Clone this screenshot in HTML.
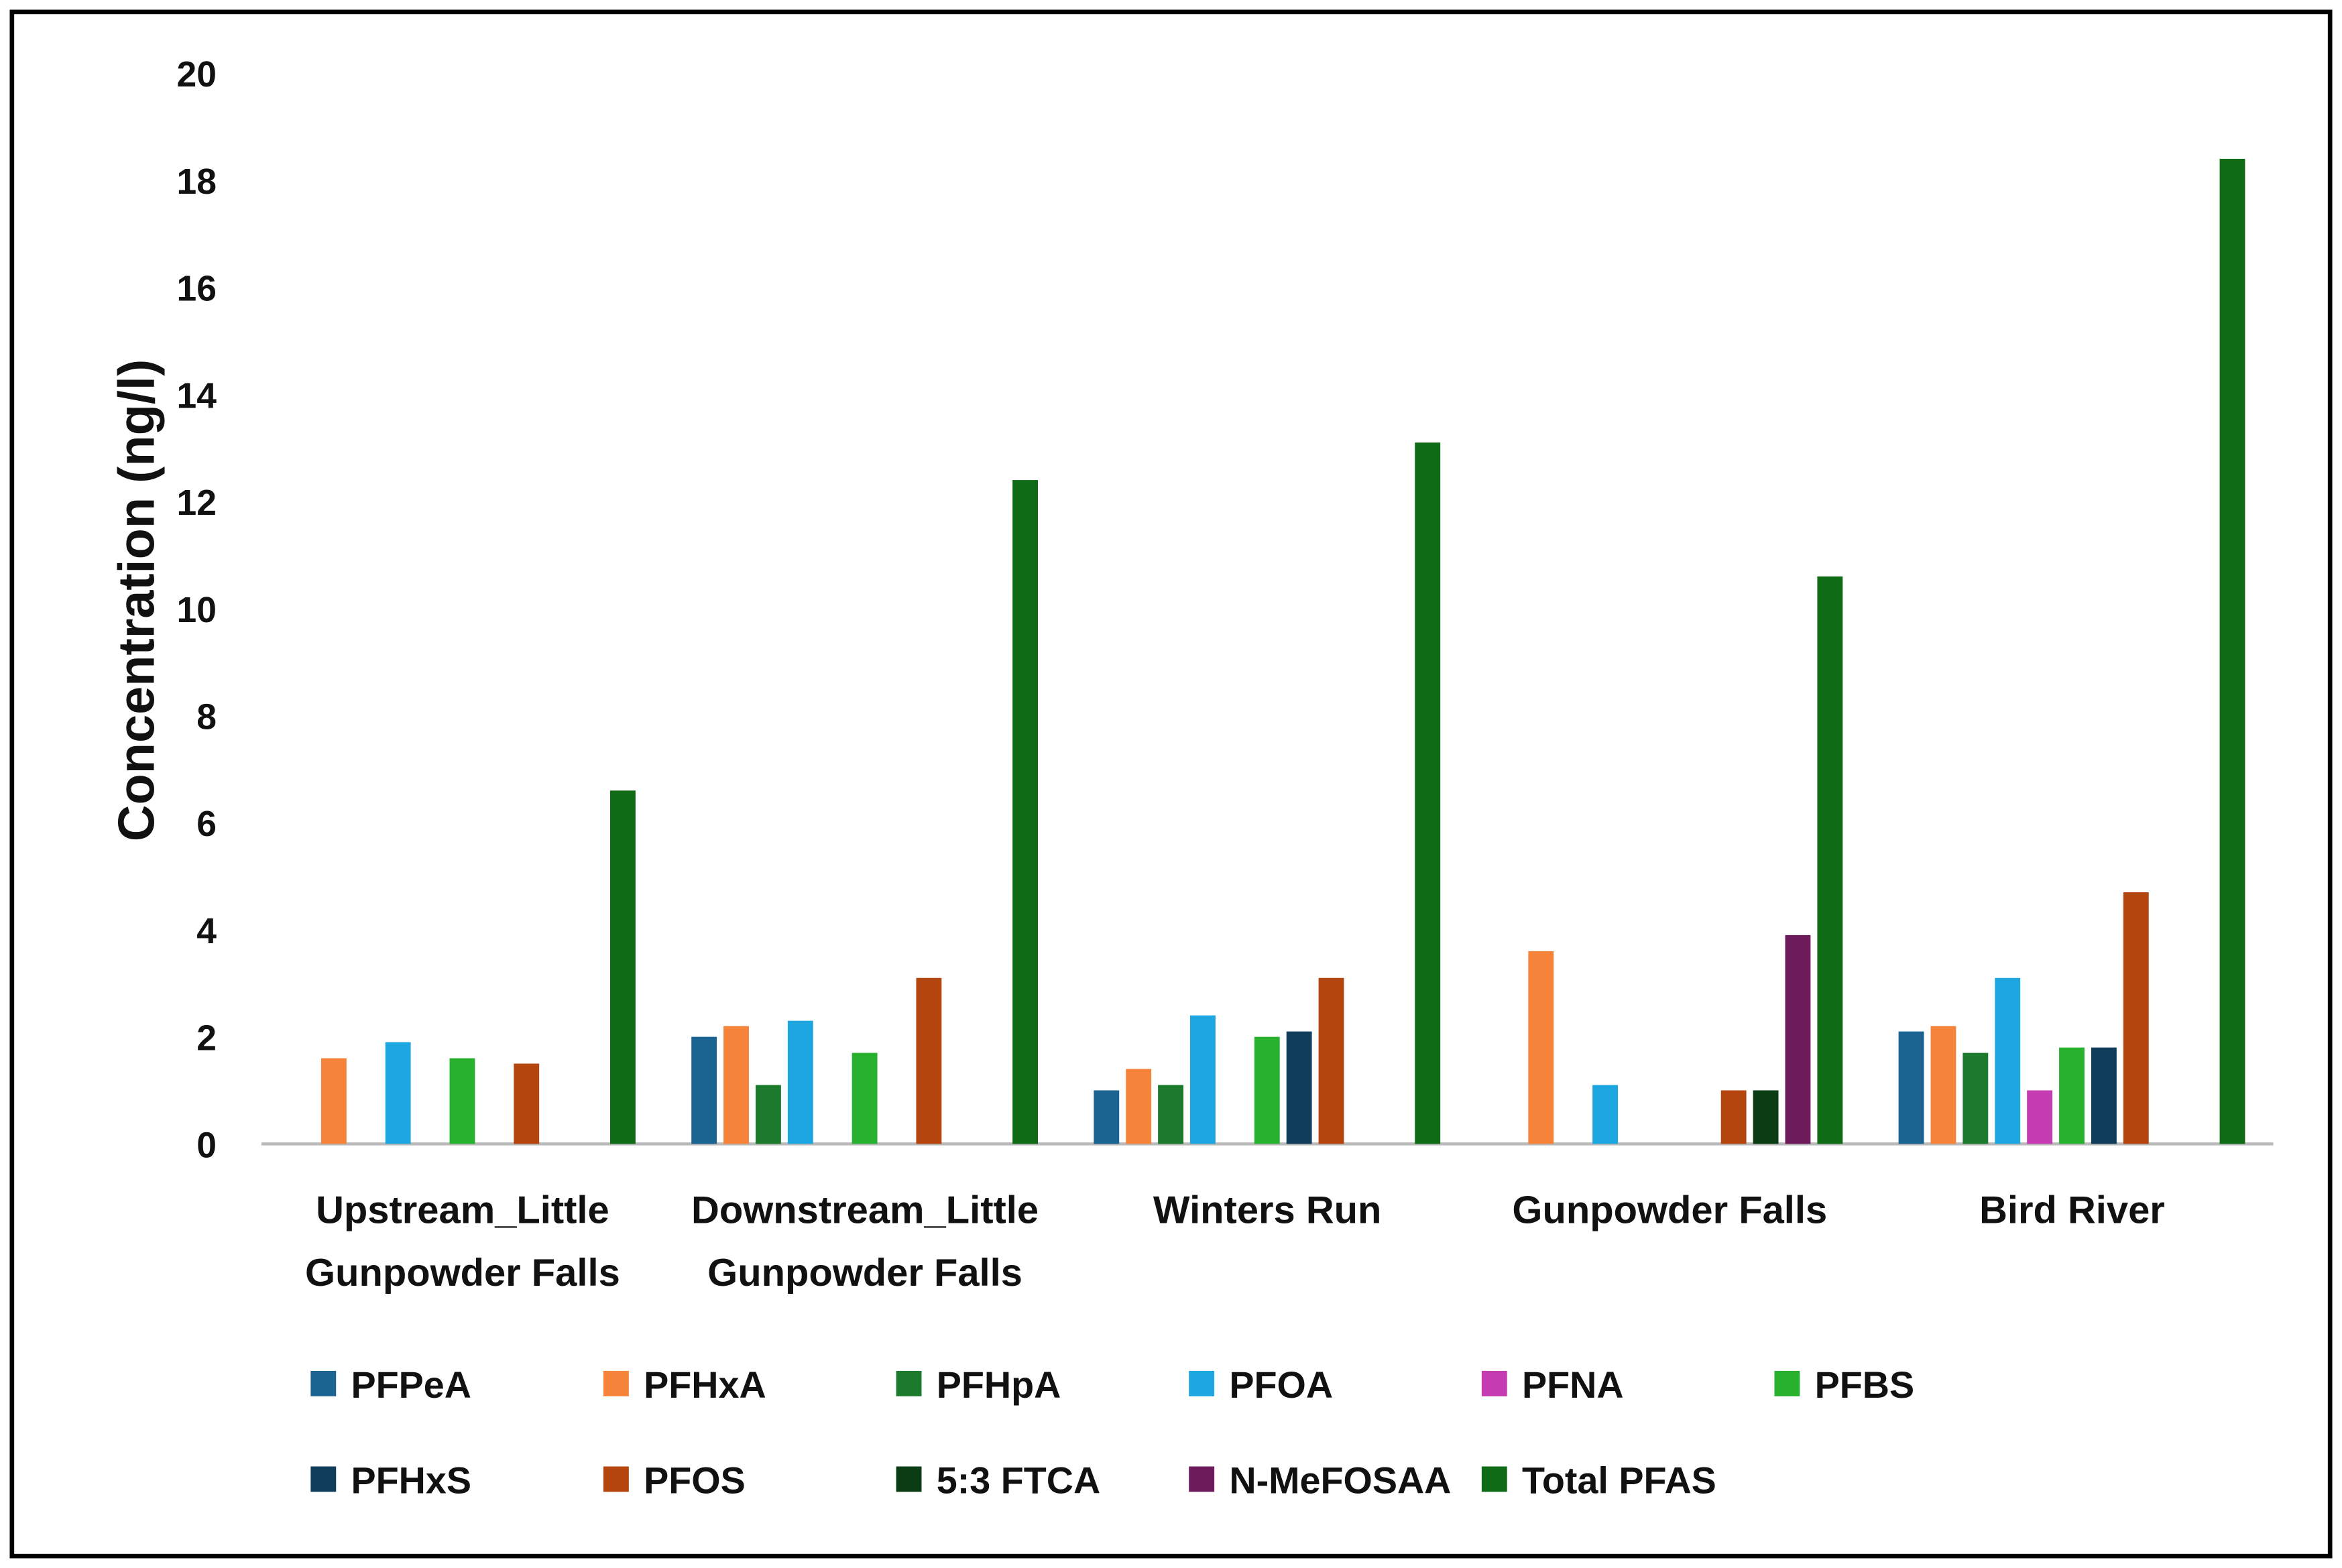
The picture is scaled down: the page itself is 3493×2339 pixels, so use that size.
<!DOCTYPE html>
<html><head><meta charset="utf-8"><style>
html,body{margin:0;padding:0;background:#fff;}
svg{display:block;}
text{font-family:"Liberation Sans",Arial,sans-serif;font-weight:bold;fill:#111;}
</style></head><body>
<svg id="chart" width="3493" height="2339" viewBox="0 0 1568 1050" preserveAspectRatio="none" xmlns="http://www.w3.org/2000/svg">
<rect x="8" y="8" width="1552" height="1034" fill="#fff" stroke="#000" stroke-width="3"/>
<g id="yticks"></g>
<line x1="175" y1="766" x2="1522" y2="766" stroke="#bbb" stroke-width="2"/>
<g id="bars"></g>
<g id="xlabels"></g>
<text transform="translate(103,402) rotate(-90)" text-anchor="middle" font-size="34">Concentration (ng/l)</text>
<g id="legend"></g>
</svg>
<script>
const categories = [["Upstream_Little","Gunpowder Falls"],["Downstream_Little","Gunpowder Falls"],["Winters Run"],["Gunpowder Falls"],["Bird River"]];
const seriesNames = ["PFPeA","PFHxA","PFHpA","PFOA","PFNA","PFBS","PFHxS","PFOS","5:3 FTCA","N-MeFOSAA","Total PFAS"];
const seriesColors = ["#1b6390","#f5843a","#1c7a2c","#1ea6e0","#c43bb2","#27b12f","#0f3d5a","#b4450f","#0b3c14","#6e1b5c","#0f6b16"];
const PFPeA = [0,2.0,1.0,0,2.1];
const PFHxA = [1.6,2.2,1.4,3.6,2.2];
const PFHpA = [0,1.1,1.1,0,1.7];
const PFOA = [1.9,2.3,2.4,1.1,3.1];
const PFNA = [0,0,0,0,1.0];
const PFBS = [1.6,1.7,2.0,0,1.8];
const PFHxS = [0,0,2.1,0,1.8];
const PFOS = [1.5,3.1,3.1,1.0,4.7];
const FTCA = [0,0,0,1.0,0];
const NMeFOSAA = [0,0,0,3.9,0];
const TotalPFAS = [6.6,12.4,13.1,10.6,18.4];
const seriesValues = [PFPeA,PFHxA,PFHpA,PFOA,PFNA,PFBS,PFHxS,PFOS,FTCA,NMeFOSAA,TotalPFAS];
const yTicks = [0,2,4,6,8,10,12,14,16,18,20];

const NS="http://www.w3.org/2000/svg";
const x0=175,x1=1522,yBase=766,yTop=49,yMax=20;
const groupW=(x1-x0)/categories.length;
const slot=21.5,barW=17,offset=27-barW/2;
function y(v){return yBase-(v/yMax)*(yBase-yTop);}
function xBar(g,s){return x0+g*groupW+offset+s*slot;}
function mk(tag,attrs,parent){const e=document.createElementNS(NS,tag);for(const k in attrs)e.setAttribute(k,attrs[k]);parent.appendChild(e);return e;}

const yt=document.getElementById('yticks');
yTicks.forEach(t=>{
  const e=mk('text',{x:145,y:y(t)+9,'text-anchor':'end','font-size':'24'},yt);
  
  
  e.textContent=t;
});

const bg=document.getElementById('bars');
seriesValues.forEach((vals,s)=>{
  vals.forEach((v,g)=>{
    if(v<=0)return;
    const r=mk('rect',{x:xBar(g,s),y:y(v),width:barW,height:yBase-y(v),fill:seriesColors[s]},bg);
    
    
  });
});

const xl=document.getElementById('xlabels');
categories.forEach((lines,g)=>{
  const cx=x0+g*groupW+groupW/2;
  lines.forEach((ln,i)=>{
    const e=mk('text',{x:cx,y:819+i*42,'text-anchor':'middle','font-size':'26'},xl);
    
    
    e.textContent=ln;
  });
});

const lg=document.getElementById('legend');
seriesNames.forEach((n,i)=>{
  const row=Math.floor(i/6),col=i%6;
  const lx=208+col*196,ly=927+row*64;
  const grp=mk('g',{},lg);
  
  
  mk('rect',{x:lx,y:ly-9,width:17,height:17,fill:seriesColors[i]},grp);
  const t=mk('text',{x:lx+27,y:ly+9,'font-size':'25'},grp);
  t.textContent=n;
});
</script>
</body></html>
